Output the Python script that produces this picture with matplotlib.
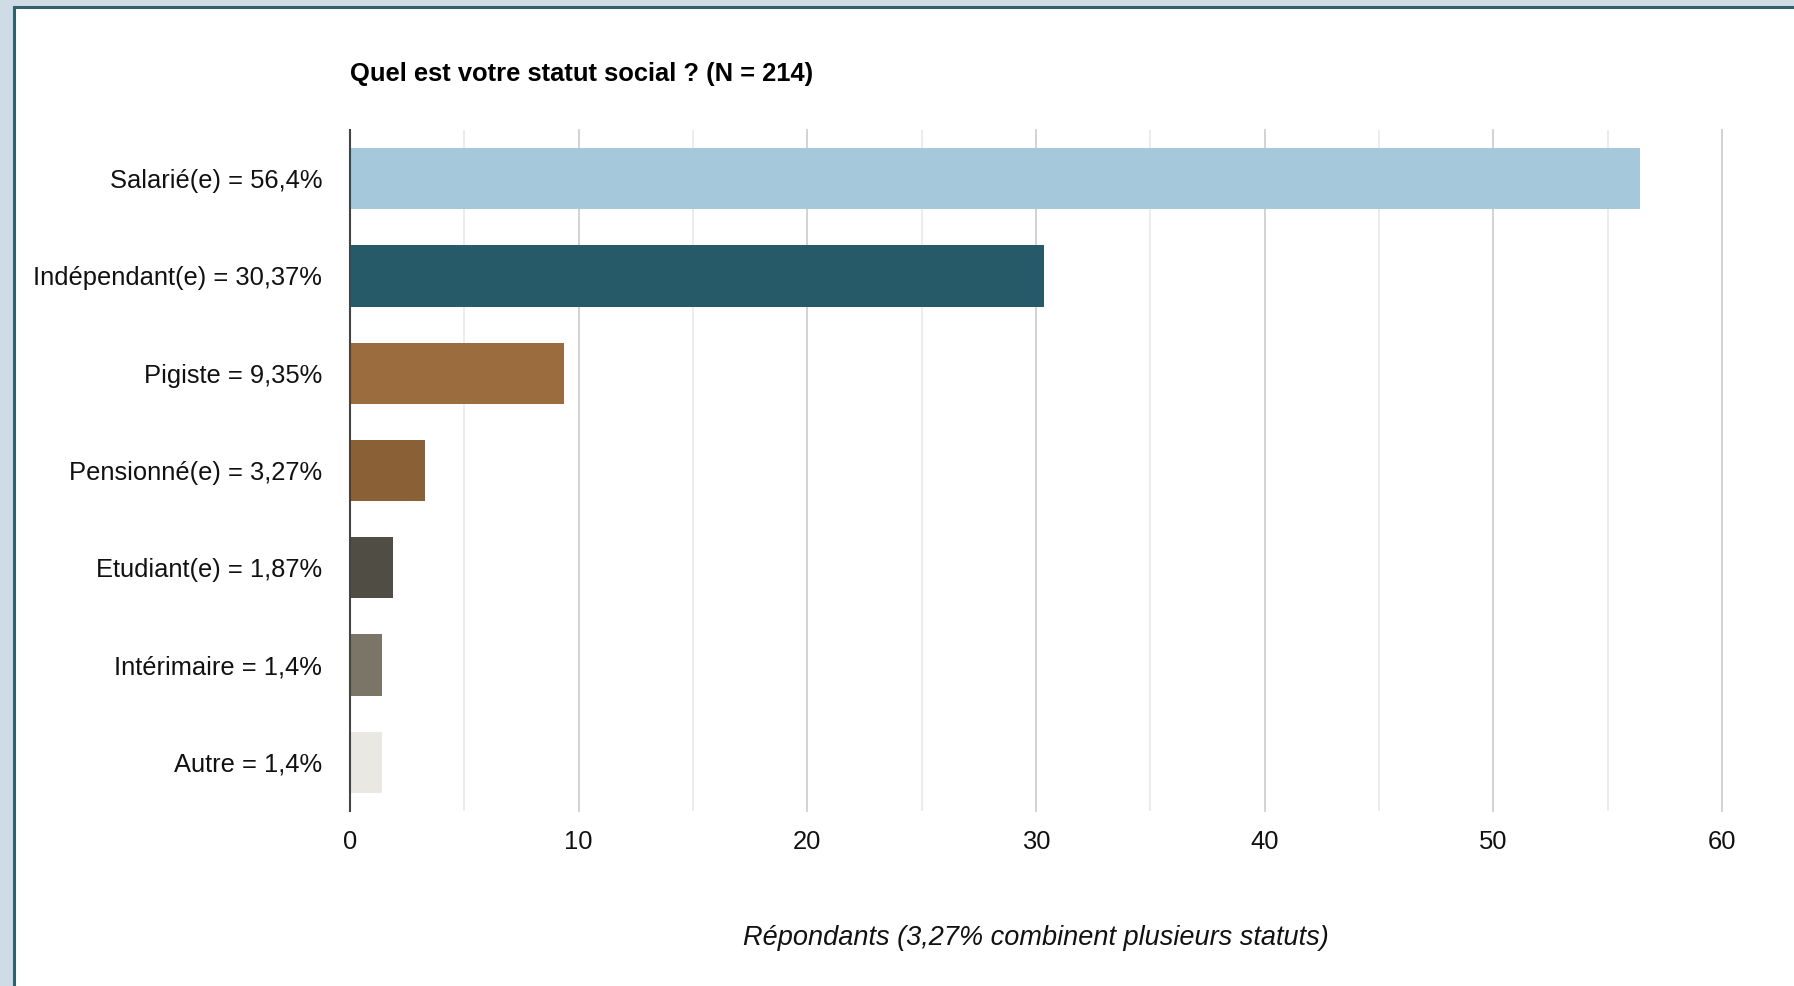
import matplotlib
matplotlib.use("Agg")
import matplotlib.pyplot as plt
from matplotlib.patches import Rectangle

plt.rcParams['font.family'] = ['Liberation Sans', 'DejaVu Sans']

categories = ["Salarié(e) = 56,4%", "Indépendant(e) = 30,37%", "Pigiste = 9,35%",
              "Pensionné(e) = 3,27%", "Etudiant(e) = 1,87%", "Intérimaire = 1,4%",
              "Autre = 1,4%"]
values = [56.4, 30.37, 9.35, 3.27, 1.87, 1.4, 1.4]
colors = ["#a5c9da", "#275a69", "#9a6c3e", "#8a6036", "#504d45", "#7a7566", "#e9e8e3"]
xticks = [0, 10, 20, 30, 40, 50, 60]
minor_ticks = [5, 15, 25, 35, 45, 55]
title = "Quel est votre statut social ? (N = 214)"
xlabel = "Répondants (3,27% combinent plusieurs statuts)"

W, H = 1794, 986
fig = plt.figure(figsize=(W / 100, H / 100), dpi=100)
fig.patch.set_facecolor("#cfdbe5")

# white panel with dark border
panel = Rectangle((14 / W, -0.05), 1.1, 1 - 7 / H + 0.05, transform=fig.transFigure,
                  facecolor="white", edgecolor="#32606f", linewidth=2.2, zorder=-10)
fig.patches.append(panel)

ax = fig.add_axes([350 / W, 1 - 811 / H, (1722 - 350) / W, (811 - 130) / H])
ax.set_zorder(5)
ax.set_facecolor("none")

ypos = list(range(len(categories)))
ax.barh(ypos, values, height=0.63, color=colors, zorder=3)

ax.set_xlim(0, 60)
ax.set_ylim(len(categories) - 0.5, -0.5)

for x in minor_ticks:
    ax.axvline(x, color="#ebebeb", linewidth=1.3, zorder=1)
for x in xticks[1:]:
    ax.axvline(x, color="#cfcfcf", linewidth=1.3, zorder=1, clip_on=False)

for s in ["top", "right", "bottom"]:
    ax.spines[s].set_visible(False)
ax.spines["left"].set_color("#444444")
ax.spines["left"].set_linewidth(1.5)
ax.spines["left"].set_zorder(4)

ax.set_yticks(ypos)
ax.set_yticklabels(categories, fontsize=18.4, color="#111111")
ax.set_xticks(xticks)
ax.set_xticklabels([str(t) for t in xticks], fontsize=18.4, color="#111111")
ax.tick_params(axis="y", length=0, pad=20)
ax.tick_params(axis="x", length=0, pad=14)

fig.text(350 / W, 1 - 74 / H, title, ha="left", va="center", fontsize=18.4,
         fontweight="bold", color="#000000")
fig.text(1036 / W, 1 - 938 / H, xlabel, ha="center", va="center", fontsize=19.5,
         style="italic", color="#111111")

fig.savefig("out.png", dpi=100, facecolor=fig.get_facecolor())
